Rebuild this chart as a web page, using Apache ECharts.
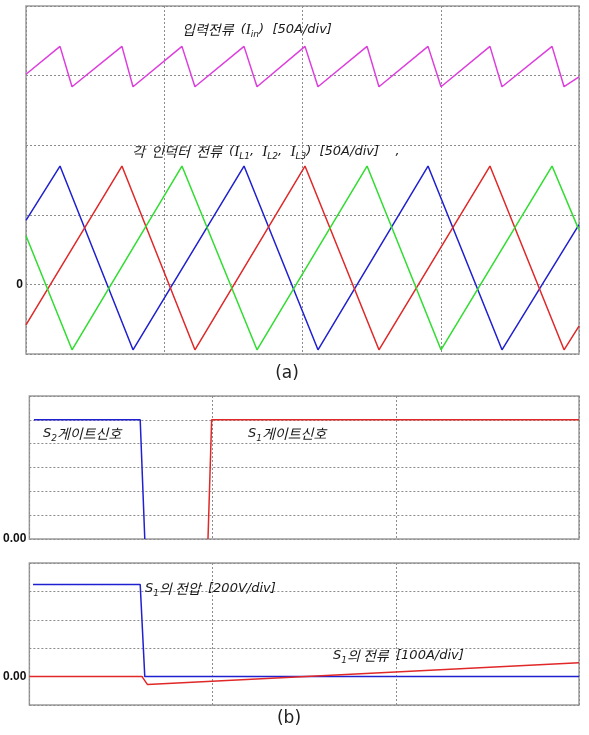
<!DOCTYPE html>
<html>
<head>
<meta charset="utf-8">
<script src="https://cdn.jsdelivr.net/npm/echarts@6/dist/echarts.min.js"></script>
<style>
  html, body { margin: 0; padding: 0; background: #fff; }
  #main { width: 589px; height: 735px; }
</style>
</head>
<body>
<div id="main"></div>
<script>
// (a) time axis in us (10us/div), currents in A (50A/div)
const inputCurrent = [
  [0, 151], [2.46, 171], [3.33, 142], [6.94, 171], [7.74, 142], [11.28, 171], [12.22, 142],
  [15.77, 171], [16.71, 142], [20.18, 171], [21.12, 142], [24.67, 171], [25.53, 142],
  [29.08, 171], [30.02, 142], [33.56, 171], [34.43, 142], [38.05, 171], [38.92, 142], [40, 149]
];
const iL1 = [[0, 46], [2.46, 85], [7.74, -47], [15.77, 85], [21.12, -47], [29.08, 85], [34.43, -47], [40, 43]];
const iL2 = [[0, -29], [6.94, 85], [12.22, -47], [20.18, 85], [25.53, -47], [33.56, 85], [38.92, -47], [40, -30]];
const iL3 = [[0, 35], [3.33, -47], [11.28, 85], [16.71, -47], [24.67, 85], [30.02, -47], [38.05, 85], [40, 39]];

// (b) time axis in ns (200ns/div)
const s2Gate = [[5, 1], [121, 1], [126, 0]];
const s1Gate = [[195, 0], [199, 1], [600, 1]];
const s1Voltage = [[4, 648], [121, 648], [126, 0], [600, 0]];   // V, 200V/div
const s1Current = [[0, 0], [123, 0], [129, -28], [600, 49]];     // A, 100A/div

const BLUE = '#2020d0', RED = '#e02828', GREEN = '#30dd30', MAGENTA = '#dd3fdd';
const gridLine = { show: true, lineStyle: { color: '#8c8c8c', type: [2, 2], width: 1 } };

function xAx(gridIndex, max, interval) {
  return {
    type: 'value', gridIndex: gridIndex, min: 0, max: max, interval: interval,
    axisLine: { show: false }, axisTick: { show: false }, axisLabel: { show: false },
    splitLine: gridLine
  };
}
function yAx(gridIndex, min, max, interval, zeroText, show) {
  return {
    type: 'value', gridIndex: gridIndex, min: min, max: max, interval: interval,
    axisLine: { show: false }, axisTick: { show: false },
    axisLabel: {
      show: show !== false, margin: 3, color: '#111', fontWeight: 'bold', fontSize: 12,
      fontFamily: 'Liberation Sans',
      formatter: function (v) { return v === 0 ? zeroText : ''; }
    },
    splitLine: show === false ? { show: false } : gridLine
  };
}
function line(name, data, color, xi, yi) {
  return {
    name: name, type: 'line', data: data, xAxisIndex: xi, yAxisIndex: yi,
    showSymbol: false, symbol: 'none', animation: false,
    lineStyle: { color: color, width: 1.5 }
  };
}

// label text styles: Korean, latin italic, serif I, subscript
const fKr = 'Noto Sans CJK KR';
const richLbl = {
  k: { fontFamily: fKr, fontSize: 14, fontStyle: 'italic', fill: '#1a1a1a', lineHeight: 18 },
  t: { fontFamily: 'DejaVu Sans', fontSize: 13, fontStyle: 'italic', fill: '#1a1a1a', lineHeight: 18 },
  i: { fontFamily: 'Liberation Serif', fontSize: 15, fontStyle: 'italic', fill: '#1a1a1a', lineHeight: 18 },
  s: { fontFamily: 'DejaVu Sans', fontSize: 9, fontStyle: 'italic', fill: '#1a1a1a', lineHeight: 9, verticalAlign: 'bottom' }
};
function lbl(x, y, text) {
  return {
    type: 'text', x: x, y: y, z: 100,
    style: { text: text, rich: richLbl, verticalAlign: 'middle', align: 'left' }
  };
}

const chart = echarts.init(document.getElementById('main'));
chart.setOption({
  backgroundColor: '#fff',
  animation: false,
  grid: [
    { left: 26, top: 6, width: 553, height: 348, show: true, borderColor: '#9c9c9c', borderWidth: 1.5, containLabel: false },
    { left: 27, top: 396, width: 552, height: 143, show: true, borderColor: '#9c9c9c', borderWidth: 1.5, containLabel: false },
    { left: 27, top: 563, width: 552, height: 142, show: true, borderColor: '#9c9c9c', borderWidth: 1.5, containLabel: false }
  ],
  xAxis: [xAx(0, 40, 10), xAx(1, 600, 200), xAx(2, 600, 200)],
  yAxis: [
    yAx(0, -50, 200, 50, '0'),
    yAx(1, 0, 1.2, 0.2, '0.00'),
    yAx(2, -200, 800, 200, '0.00'),
    yAx(2, -100, 400, 100, '', false)
  ],
  series: [
    line('Iin', inputCurrent, MAGENTA, 0, 0),
    line('IL1', iL1, BLUE, 0, 0),
    line('IL2', iL2, RED, 0, 0),
    line('IL3', iL3, GREEN, 0, 0),
    line('S2 gate', s2Gate, BLUE, 1, 1),
    line('S1 gate', s1Gate, RED, 1, 1),
    line('S1 voltage', s1Voltage, BLUE, 2, 2),
    line('S1 current', s1Current, RED, 2, 3)
  ],
  graphic: [
    lbl(182, 30, '{k|입력전류 }{t| (}{i|I}{s|in}{t|)  [50A/div]}'),
    lbl(132, 152, '{k|각  인덕터  전류 }{t| (}{i|I}{s|L1}{t|,  }{i|I}{s|L2}{t|,  }{i|I}{s|L3}{t|)  [50A/div]    ,}'),
    lbl(43, 434, '{t|S}{s|2}{k|게이트신호}'),
    lbl(248, 434, '{t|S}{s|1}{k|게이트신호}'),
    lbl(145, 589, '{t|S}{s|1}{k|의 전압 }{t| [200V/div]}'),
    lbl(333, 656, '{t|S}{s|1}{k|의 전류 }{t| [100A/div]}'),
    { type: 'text', x: 287, y: 374, style: { text: '(a)', font: '17px "DejaVu Sans"', fill: '#222', align: 'center', verticalAlign: 'middle' } },
    { type: 'text', x: 289, y: 719, style: { text: '(b)', font: '17px "DejaVu Sans"', fill: '#222', align: 'center', verticalAlign: 'middle' } }
  ]
});
</script>
</body>
</html>
